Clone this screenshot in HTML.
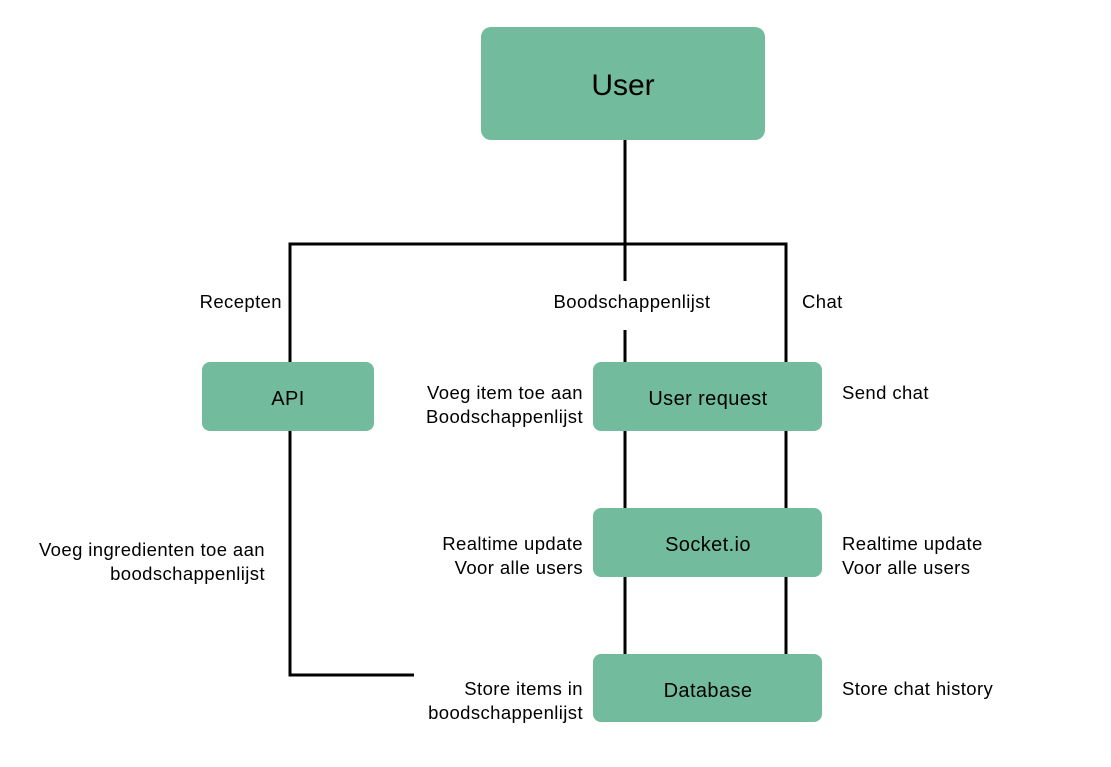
<!DOCTYPE html>
<html><head><meta charset="utf-8"><style>
html,body{margin:0;padding:0;background:#fff;}
svg{display:block;}
text{font-family:"Liberation Sans",sans-serif;font-size:18.5px;letter-spacing:0.4px;fill:#000;}
.b{font-size:20px;letter-spacing:0.4px;}
</style></head><body>
<svg width="1111" height="767" viewBox="0 0 1111 767">
<g fill="#72bc9d">
<rect x="481" y="27" width="284" height="113" rx="10"/>
<rect x="202" y="362" width="172" height="69" rx="8"/>
<rect x="593" y="362" width="229" height="69" rx="8"/>
<rect x="593" y="508" width="229" height="69" rx="8"/>
<rect x="593" y="654" width="229" height="68" rx="8"/>
</g>
<g stroke="#000" stroke-width="3" fill="none">
<line x1="625" y1="140" x2="625" y2="281"/>
<line x1="625" y1="330" x2="625" y2="362"/>
<polyline points="290,362 290,244 786,244 786,362"/>
<line x1="625" y1="431" x2="625" y2="508"/>
<line x1="786" y1="431" x2="786" y2="508"/>
<line x1="625" y1="577" x2="625" y2="654"/>
<line x1="786" y1="577" x2="786" y2="654"/>
<polyline points="290,431 290,675 414,675"/>
</g>
<text x="623" y="95" text-anchor="middle" style="font-size:30px;letter-spacing:0">User</text>
<text class="b" x="288" y="405" text-anchor="middle">API</text>
<text class="b" x="708" y="405" text-anchor="middle">User request</text>
<text class="b" x="708" y="551" text-anchor="middle">Socket.io</text>
<text class="b" x="708" y="697" text-anchor="middle">Database</text>
<text x="282" y="308" text-anchor="end">Recepten</text>
<text x="632" y="308" text-anchor="middle">Boodschappenlijst</text>
<text x="802" y="308">Chat</text>
<text x="583" y="399" text-anchor="end">Voeg item toe aan</text>
<text x="583" y="423" text-anchor="end">Boodschappenlijst</text>
<text x="842" y="399">Send chat</text>
<text x="265" y="556" text-anchor="end">Voeg ingredienten toe aan</text>
<text x="265" y="580" text-anchor="end">boodschappenlijst</text>
<text x="583" y="550" text-anchor="end">Realtime update</text>
<text x="583" y="574" text-anchor="end">Voor alle users</text>
<text x="842" y="550">Realtime update</text>
<text x="842" y="574">Voor alle users</text>
<text x="583" y="695" text-anchor="end">Store items in</text>
<text x="583" y="719" text-anchor="end">boodschappenlijst</text>
<text x="842" y="695">Store chat history</text>
</svg>
</body></html>
